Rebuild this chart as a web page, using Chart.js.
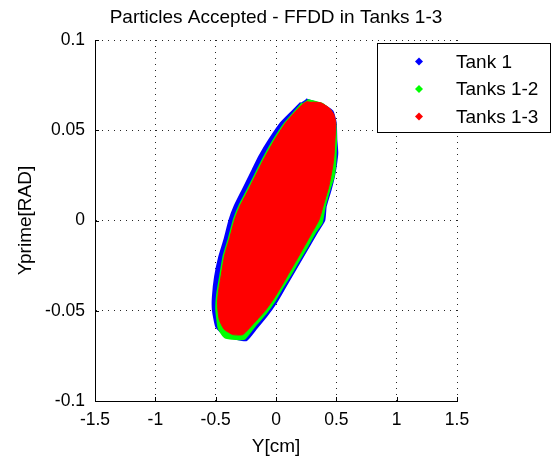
<!DOCTYPE html>
<html>
<head>
<meta charset="utf-8">
<script src="https://cdn.jsdelivr.net/npm/chart.js@4.4.0/dist/chart.umd.min.js"></script>
<style>
  html, body { margin: 0; padding: 0; background: #fff; }
</style>
</head>
<body>
<canvas id="chart" width="553" height="456"></canvas>
<script>
// chart text
const chartTitle = 'Particles Accepted - FFDD in Tanks 1-3';
const xTitle = 'Y[cm]';
const yTitle = 'Yprime[RAD]';
const seriesNames = ['Tank 1', 'Tanks 1-2', 'Tanks 1-3'];
const seriesColors = ['#0000ff', '#00ff00', '#ff0000'];

// tick labels
const xTickLabels = ['-1.5', '-1', '-0.5', '0', '0.5', '1', '1.5'];
const yTickLabels = ['-0.1', '-0.05', '0', '0.05', '0.1'];

// outline of each particle cloud (clockwise from the top)
const tank1Y = [0.247, 0.384, 0.467, 0.495, 0.50, 0.508, 0.495, 0.48, 0.453, 0.412, 0.40, 0.345, 0.28, 0.21, 0.14, 0.07, 0.0, -0.08, -0.16, -0.245, -0.33, -0.426, -0.495, -0.523, -0.523, -0.505, -0.47, -0.428, -0.385, -0.344, -0.275, -0.193, -0.138, -0.055, 0.041, 0.137, 0.206];
const tank1Yp = [0.0671, 0.0643, 0.0606, 0.0541, 0.0448, 0.0374, 0.030, 0.0244, 0.0171, 0.0078, 0.0, -0.006, -0.0135, -0.0215, -0.0295, -0.0375, -0.0455, -0.053, -0.0595, -0.0663, -0.0655, -0.0635, -0.0589, -0.0496, -0.0422, -0.0311, -0.020, -0.0107, 0.0004, 0.0078, 0.0171, 0.0282, 0.0356, 0.0448, 0.0541, 0.0606, 0.0652];

const tanks12Y = [0.26, 0.38, 0.45, 0.49, 0.497, 0.495, 0.49, 0.478, 0.445, 0.405, 0.38, 0.325, 0.26, 0.19, 0.12, 0.055, -0.01, -0.085, -0.17, -0.26, -0.33, -0.426, -0.475, -0.495, -0.488, -0.462, -0.433, -0.39, -0.347, -0.305, -0.235, -0.153, -0.095, -0.017, 0.075, 0.16, 0.218];
const tanks12Yp = [0.0668, 0.0648, 0.061, 0.0545, 0.0448, 0.037, 0.030, 0.0244, 0.0175, 0.008, -0.001, -0.0065, -0.0142, -0.022, -0.030, -0.037, -0.0445, -0.0515, -0.058, -0.0655, -0.0657, -0.0646, -0.0598, -0.0496, -0.041, -0.0305, -0.0193, -0.0097, 0.001, 0.008, 0.017, 0.028, 0.0356, 0.0448, 0.0541, 0.0606, 0.065];

const tanks13Y = [0.302, 0.371, 0.44, 0.48, 0.495, 0.489, 0.48, 0.47, 0.438, 0.398, 0.357, 0.30, 0.233, 0.165, 0.10, 0.04, -0.02, -0.09, -0.18, -0.275, -0.358, -0.43, -0.47, -0.485, -0.478, -0.453, -0.425, -0.383, -0.34, -0.298, -0.228, -0.146, -0.088, -0.01, 0.08, 0.165, 0.222, 0.26];
const tanks13Yp = [0.0656, 0.0652, 0.0624, 0.0587, 0.0541, 0.0448, 0.0356, 0.030, 0.0189, 0.0097, 0.0004, -0.0065, -0.0145, -0.0225, -0.030, -0.037, -0.0435, -0.050, -0.0567, -0.0632, -0.0632, -0.0603, -0.055, -0.047, -0.040, -0.030, -0.019, -0.0095, 0.001, 0.008, 0.017, 0.028, 0.0356, 0.0448, 0.0541, 0.0606, 0.0645, 0.066];

const fontFamily = '"Liberation Sans", Arial, Helvetica, sans-serif';

//pair up the x / y lists into points
function toPoints(xs, ys) {
  return xs.map((x, i) => ({ x: x, y: ys[i] }));
}

function makeSet(idx, xs, ys) {
  return {
    label: seriesNames[idx],
    data: toPoints(xs, ys),
    showLine: true,
    fill: 'shape',
    tension: 0.15,
    borderColor: seriesColors[idx],
    backgroundColor: seriesColors[idx],
    borderWidth: idx === 2 ? 1 : 2,
    pointRadius: 0,
    order: 3 - idx //red ends up on top
  };
}

// title, inside tick marks and the boxed legend (MATLAB look)
const matlabBits = {
  id: 'matlabBits',
  afterDraw(chart) {
    const ctx = chart.ctx;
    const area = chart.chartArea;
    const xs = chart.scales.x;
    const ys = chart.scales.y;
    ctx.save();
    ctx.fillStyle = '#000';
    ctx.font = '19px ' + fontFamily;
    ctx.textAlign = 'center';
    ctx.textBaseline = 'middle';
    ctx.fillText(chartTitle, (area.left + area.right) / 2, 18);

    // short ticks pointing into the plot
    ctx.strokeStyle = '#000';
    ctx.lineWidth = 1;
    ctx.beginPath();
    xs.ticks.forEach(t => {
      const px = Math.round(xs.getPixelForValue(t.value)) + 0.5;
      ctx.moveTo(px, area.bottom);
      ctx.lineTo(px, area.bottom - 4);
    });
    ys.ticks.forEach(t => {
      const py = Math.round(ys.getPixelForValue(t.value)) + 0.5;
      ctx.moveTo(area.left, py);
      ctx.lineTo(area.left + 4, py);
    });
    ctx.stroke();

    // legend
    const box = { left: 377.5, top: 43.5, right: 550.5, bottom: 132.5 };
    ctx.fillStyle = '#fff';
    ctx.fillRect(box.left, box.top, box.right - box.left, box.bottom - box.top);
    ctx.strokeStyle = '#000';
    ctx.strokeRect(box.left, box.top, box.right - box.left, box.bottom - box.top);
    const rows = [61.5, 89, 116.5];
    ctx.textAlign = 'left';
    chart.data.datasets.forEach((ds, i) => {
      const cy = rows[i];
      ctx.fillStyle = ds.borderColor;
      ctx.beginPath();
      ctx.moveTo(419, cy - 4);
      ctx.lineTo(423, cy);
      ctx.lineTo(419, cy + 4);
      ctx.lineTo(415, cy);
      ctx.closePath();
      ctx.fill();
      ctx.fillStyle = '#000';
      ctx.fillText(ds.label, 456, cy + 1);
    });
    ctx.restore();
  }
};

const gridStyle = {
  color: 'rgba(0,0,0,0.85)',
  lineWidth: 1,
  drawTicks: false
};

const config = {
  type: 'scatter',
  data: {
    datasets: [
      makeSet(0, tank1Y, tank1Yp),
      makeSet(1, tanks12Y, tanks12Yp),
      makeSet(2, tanks13Y, tanks13Yp)
    ]
  },
  options: {
    responsive: false,
    animation: false,
    layout: { padding: { left: 0, top: 40, right: 96, bottom: 0 } },
    plugins: {
      legend: { display: false },
      title: { display: false },
      tooltip: { enabled: false }
    },
    scales: {
      x: {
        type: 'linear',
        min: -1.5,
        max: 1.5,
        grid: gridStyle,
        border: { display: true, color: '#000', width: 1, dash: [1, 5] },
        ticks: {
          stepSize: 0.5,
          padding: 9,
          color: '#000',
          font: { family: fontFamily, size: 17.5 },
          callback: (v, i) => xTickLabels[i]
        },
        title: {
          display: true,
          text: xTitle,
          color: '#000',
          font: { family: fontFamily, size: 19, lineHeight: 1 },
          padding: { top: 0, bottom: 0 }
        },
        afterFit: (s) => { s.height = 55; }
      },
      y: {
        type: 'linear',
        min: -0.1,
        max: 0.1,
        grid: gridStyle,
        border: { display: true, color: '#000', width: 1, dash: [1, 5] },
        ticks: {
          stepSize: 0.05,
          padding: 10,
          color: '#000',
          font: { family: fontFamily, size: 17.5 },
          callback: (v, i) => yTickLabels[i]
        },
        title: {
          display: true,
          text: yTitle,
          color: '#000',
          font: { family: fontFamily, size: 19, lineHeight: 1 },
          padding: { top: 16, bottom: 0 }
        },
        afterFit: (s) => { s.width = 95; }
      }
    }
  },
  plugins: [matlabBits]
};

new Chart(document.getElementById('chart'), config);
</script>
</body>
</html>
